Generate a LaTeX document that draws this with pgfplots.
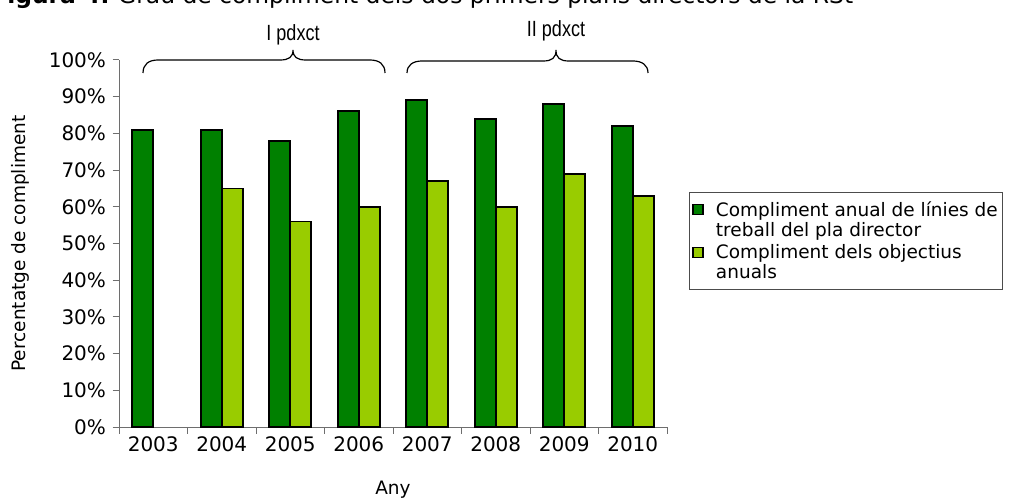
\documentclass[border=0pt]{standalone}
\usepackage{pgfplots}
\pgfplotsset{compat=1.18}
\usepackage{fontspec}
\setmainfont{DejaVu Sans}
\newfontfamily\arialfont{Liberation Sans}
\newfontfamily\narrowfont[FakeStretch=0.82]{Liberation Sans}
\definecolor{darkg}{RGB}{0,128,0}
\definecolor{lightg}{RGB}{153,204,0}
\definecolor{axgray}{RGB}{110,110,110}
\begin{document}
\begin{tikzpicture}[x=1pt,y=1pt]
\useasboundingbox (0,0) rectangle (1011,499);
\begin{axis}[
 at={(119pt,72pt)}, anchor=south west,
 scale only axis, width=548pt, height=367pt,
 xmin=-0.5, xmax=7.5, ymin=0, ymax=100,
 axis x line*=bottom, axis y line*=left,
 axis line style={axgray, line width=1pt, -},
 ybar=0pt, bar width=21pt,
 xtick={0,1,2,3,4,5,6,7},
 xticklabels={2003,2004,2005,2006,2007,2008,2009,2010},
 major x tick style={draw=none},
 minor xtick={-0.5,0.5,1.5,2.5,3.5,4.5,5.5,6.5,7.5},
 ytick={0,10,...,100},
 yticklabel={\pgfmathprintnumber{\tick}\%},
 yticklabel style={xshift=-3pt},
 tick align=outside, major tick length=6.5pt, minor tick length=6.5pt,
 tick style={axgray, line width=1pt},
 ticklabel style={font=\fontsize{20}{24}\selectfont},
 /pgf/number format/assume math mode=true,
 xlabel={Any}, ylabel={Percentatge de compliment},
 label style={font=\fontsize{18.5}{22}\selectfont},
 xlabel style={yshift=-22pt},
 ylabel style={yshift=13pt},
 legend cell align=left,
 legend style={at={(1.0401,0.6403)}, anchor=north west, draw=black!70, line width=0.8pt,
   font=\fontsize{18.5}{20}\selectfont, cells={align=left}, row sep=3pt,
   inner xsep=3pt, inner ysep=7pt},
 legend image code/.code={\draw[#1, line width=1.2pt] (0pt,5pt) rectangle (10pt,15pt); \path[draw=none,fill=none] (0pt,-15pt) rectangle (21pt,15pt);},
]
\addplot[fill=darkg, draw=black, line width=1.8pt] coordinates {(0,81)(1,81)(2,78)(3,86)(4,89)(5,84)(6,88)(7,82)};
\addplot[fill=lightg, draw=black, line width=1.8pt] coordinates {(1,65)(2,56)(3,60)(4,67)(5,60)(6,69)(7,63)};
\legend{Compliment anual de línies de\\treball del pla director, Compliment dels objectius\\anuals}
\end{axis}
\draw[black, line width=1.2pt] (143,426) .. controls (143,435) and (149,439) .. (158,439) -- (280,439) .. controls (289,439) and (293,442) .. (293,449) .. controls (293,442) and (297,439) .. (306,439) -- (370,439) .. controls (379,439) and (385,435) .. (385,426);
\draw[black, line width=1.2pt] (407,426) .. controls (407,434) and (413,438) .. (422,438) -- (543,438) .. controls (552,438) and (556,441) .. (556,449) .. controls (556,441) and (560,438) .. (569,438) -- (633,438) .. controls (642,438) and (648,434) .. (648,426);
\node[font=\narrowfont\fontsize{22}{26}\selectfont] at (293,464) {I pdxct};
\node[font=\narrowfont\fontsize{22}{26}\selectfont] at (556,468) {II pdxct};
\node[anchor=base east, font=\bfseries\fontsize{23.4}{27}\selectfont, inner sep=0pt] at (110,495.5) {Figura 4:};
\node[anchor=base west, font=\fontsize{23.4}{27}\selectfont, inner sep=0pt] at (118,495.5) {Grau de compliment dels dos primers plans directors de la RSt};
\end{tikzpicture}
\end{document}
